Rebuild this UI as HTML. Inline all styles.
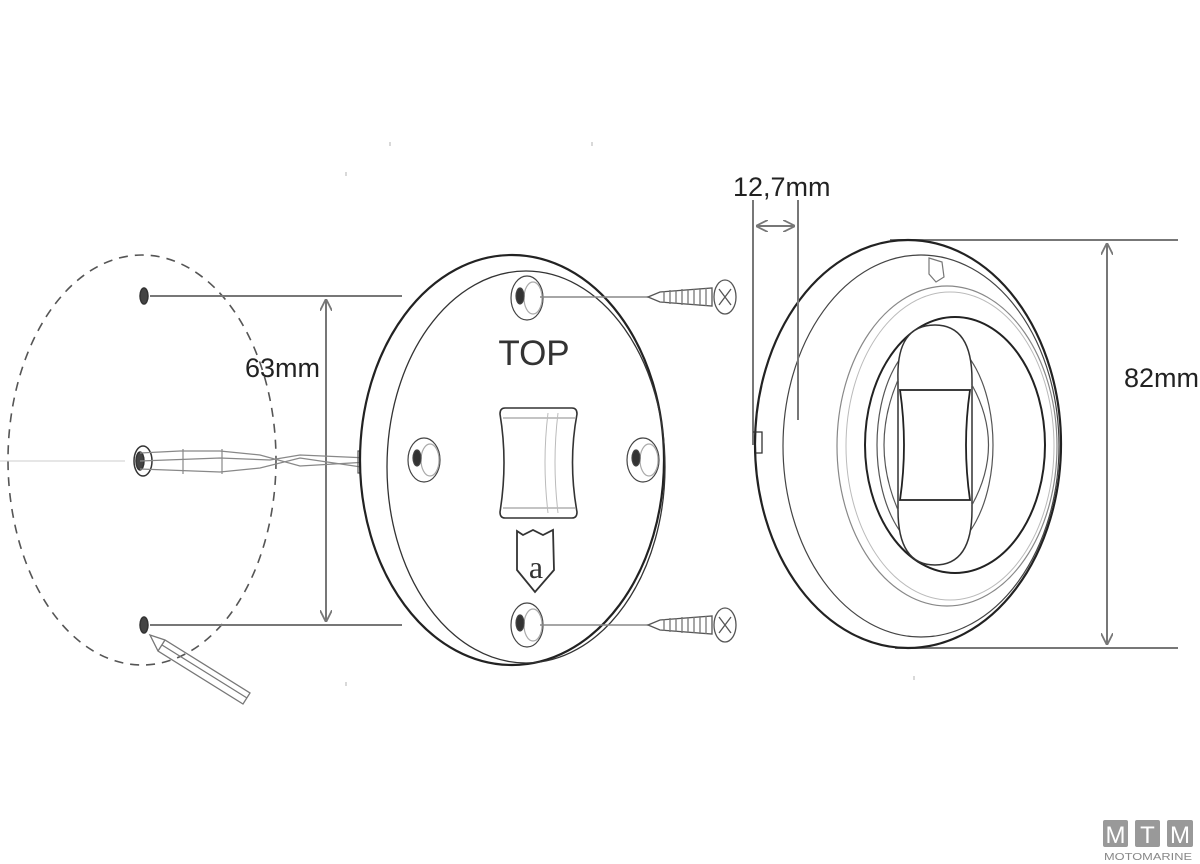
<!DOCTYPE html>
<html><head><meta charset="utf-8"><style>
html,body{margin:0;padding:0;background:#fff;}
svg{display:block;}
</style></head><body>
<svg width="1200" height="864" viewBox="0 0 1200 864" xmlns="http://www.w3.org/2000/svg" font-family="Liberation Sans, sans-serif">
<defs>
<marker id="a" viewBox="0 0 10 10" refX="9" refY="5" markerWidth="12" markerHeight="12" orient="auto-start-reverse" markerUnits="userSpaceOnUse">
<path d="M0,0 L10,5 L0,10" fill="none" stroke="#777" stroke-width="1.5"/>
</marker>
</defs>
<rect width="1200" height="864" fill="#fff"/>

<!-- Left template -->
<ellipse cx="142" cy="460" rx="134" ry="205" fill="none" stroke="#555" stroke-width="1.6" stroke-dasharray="9,7"/>
<line x1="0" y1="461" x2="125" y2="461" stroke="#ccc" stroke-width="1"/>
<g stroke="#333" stroke-width="1.5">
<ellipse cx="144" cy="296" rx="4" ry="8" fill="#444"/>
<ellipse cx="144" cy="625" rx="4" ry="8" fill="#444"/>
<ellipse cx="143" cy="461" rx="9" ry="15" fill="#fff"/>
<ellipse cx="140" cy="461" rx="4" ry="9" fill="#444"/>
</g>
<line x1="150" y1="296" x2="402" y2="296" stroke="#777" stroke-width="2"/>
<line x1="150" y1="625" x2="402" y2="625" stroke="#777" stroke-width="2"/>
<line x1="326" y1="300" x2="326" y2="621" stroke="#777" stroke-width="2" marker-start="url(#a)" marker-end="url(#a)"/>
<text x="245" y="377" font-size="27" fill="#222">63mm</text>
<!-- wire -->
<g fill="none" stroke="#888" stroke-width="1.2">
<path d="M140,453 L180,451 L220,451 L260,455 L300,466 L368,462"/>
<path d="M140,461 L220,458 L270,460 L300,455 L368,458"/>
<path d="M140,469 L220,472 L260,468 L300,458 L368,468"/>
<line x1="183" y1="449" x2="183" y2="474"/><line x1="222" y1="449" x2="222" y2="474"/>
<rect x="358" y="451" width="10" height="22" stroke="#555"/>
</g>
<!-- pencil -->
<g fill="none" stroke="#777" stroke-width="1.3">
<path d="M150,635 L165,640 L250,693 L243,704 L158,651 Z"/>
<line x1="165" y1="640" x2="158" y2="651"/>
<line x1="162" y1="645" x2="247" y2="698"/>
</g>

<!-- Middle disc -->
<ellipse cx="512" cy="460" rx="152" ry="205" fill="#fff" stroke="#222" stroke-width="2.2"/>
<ellipse cx="526" cy="467" rx="139" ry="196" fill="none" stroke="#333" stroke-width="1.3"/>
<g stroke="#444" stroke-width="1.2">
<g transform="translate(527,298)"><ellipse cx="0" cy="0" rx="16" ry="22" fill="#fff"/><ellipse cx="6" cy="0" rx="9" ry="16" fill="none" stroke="#aaa"/><ellipse cx="-7" cy="-2" rx="4" ry="8" fill="#333"/></g>
<g transform="translate(527,625)"><ellipse cx="0" cy="0" rx="16" ry="22" fill="#fff"/><ellipse cx="6" cy="0" rx="9" ry="16" fill="none" stroke="#aaa"/><ellipse cx="-7" cy="-2" rx="4" ry="8" fill="#333"/></g>
<g transform="translate(424,460)"><ellipse cx="0" cy="0" rx="16" ry="22" fill="#fff"/><ellipse cx="6" cy="0" rx="9" ry="16" fill="none" stroke="#aaa"/><ellipse cx="-7" cy="-2" rx="4" ry="8" fill="#333"/></g>
<g transform="translate(643,460)"><ellipse cx="0" cy="0" rx="16" ry="22" fill="#fff"/><ellipse cx="6" cy="0" rx="9" ry="16" fill="none" stroke="#aaa"/><ellipse cx="-7" cy="-2" rx="4" ry="8" fill="#333"/></g>
</g>
<text x="534" y="365" font-size="35" fill="#333" text-anchor="middle">TOP</text>
<!-- switch -->
<path d="M505,408 L572,408 Q577,408 577,414 Q568,462 577,512 Q577,518 572,518 L505,518 Q500,518 500,512 Q508,462 500,414 Q500,408 505,408 Z" fill="#fff" stroke="#333" stroke-width="1.6"/>
<line x1="503" y1="418" x2="575" y2="418" stroke="#888" stroke-width="1"/>
<line x1="503" y1="508" x2="575" y2="508" stroke="#888" stroke-width="1"/>
<path d="M548,413 Q542,462 548,513 M558,413 Q552,462 558,513" fill="none" stroke="#bbb" stroke-width="1"/>
<!-- shield -->
<path d="M517,531 L523,535 L533,530 L543,535 L553,530 L554,570 L535,592 L517,570 Z" fill="#fff" stroke="#333" stroke-width="1.8"/>
<text x="536" y="578" font-size="32" fill="#333" text-anchor="middle" font-family="Liberation Serif, serif">a</text>
<!-- screw lines -->
<line x1="540" y1="297" x2="648" y2="297" stroke="#888" stroke-width="1.5"/>
<line x1="540" y1="625" x2="648" y2="625" stroke="#888" stroke-width="1.5"/>
<g fill="#fff" stroke="#555" stroke-width="1.3">
<g transform="translate(0,297)">
<path d="M648,0 L660,-5 L712,-9 L712,9 L660,5 Z"/>
<path d="M664,-6 L664,6 M670,-7 L670,7 M676,-7 L676,7 M682,-8 L682,8 M688,-8 L688,8 M694,-8 L694,8 M700,-9 L700,9 M706,-9 L706,9" stroke="#777"/>
<ellipse cx="725" cy="0" rx="11" ry="17"/>
<path d="M719,-8 L731,8 M731,-8 L719,8" stroke="#555"/>
</g>
<g transform="translate(0,625)">
<path d="M648,0 L660,-5 L712,-9 L712,9 L660,5 Z"/>
<path d="M664,-6 L664,6 M670,-7 L670,7 M676,-7 L676,7 M682,-8 L682,8 M688,-8 L688,8 M694,-8 L694,8 M700,-9 L700,9 M706,-9 L706,9" stroke="#777"/>
<ellipse cx="725" cy="0" rx="11" ry="17"/>
<path d="M719,-8 L731,8 M731,-8 L719,8" stroke="#555"/>
</g>
</g>

<!-- Right disc -->
<line x1="890" y1="240" x2="1178" y2="240" stroke="#777" stroke-width="2"/>
<line x1="895" y1="648" x2="1178" y2="648" stroke="#777" stroke-width="2"/>
<line x1="1107" y1="244" x2="1107" y2="644" stroke="#777" stroke-width="2" marker-start="url(#a)" marker-end="url(#a)"/>
<text x="1124" y="387" font-size="27" fill="#222">82mm</text>
<ellipse cx="908" cy="444" rx="153" ry="204" fill="#fff" stroke="#222" stroke-width="2.2"/>
<ellipse cx="921" cy="446" rx="138" ry="191" fill="none" stroke="#444" stroke-width="1.2"/>
<ellipse cx="947" cy="446" rx="110" ry="160" fill="none" stroke="#888" stroke-width="1.2"/>
<ellipse cx="950" cy="446" rx="104" ry="154" fill="none" stroke="#bbb" stroke-width="1"/>
<ellipse cx="955" cy="445" rx="90" ry="128" fill="none" stroke="#222" stroke-width="2"/>
<ellipse cx="935" cy="445" rx="58" ry="108" fill="none" stroke="#555" stroke-width="1.2"/>
<path d="M898,380 Q896,325 935,325 Q972,325 972,380 L972,510 Q972,565 935,565 Q898,565 898,510 Z" fill="#fff" stroke="#333" stroke-width="1.5"/>
<path d="M898,380 Q870,445 898,510 M972,385 Q1005,445 972,505" fill="none" stroke="#555" stroke-width="1.2"/>
<path d="M900,390 L970,390 Q962,445 970,500 L900,500 Q908,445 900,390 Z" fill="#fff" stroke="#222" stroke-width="1.8"/>
<path d="M929,258 L942,262 L944,277 L936,282 L929,274 Z" fill="none" stroke="#777" stroke-width="1.2"/>
<!-- 12,7mm -->
<line x1="753" y1="200" x2="753" y2="445" stroke="#777" stroke-width="2"/>
<line x1="798" y1="200" x2="798" y2="420" stroke="#777" stroke-width="2"/>
<line x1="757" y1="226" x2="794" y2="226" stroke="#777" stroke-width="2" marker-start="url(#a)" marker-end="url(#a)"/>
<text x="733" y="196" font-size="27" fill="#222">12,7mm</text>
<path d="M753,432 L762,432 L762,453 L756,453" fill="none" stroke="#333" stroke-width="1.3"/>

<!-- small grey ticks -->
<g stroke="#ccc" stroke-width="1.5">
<line x1="390" y1="142" x2="390" y2="146"/><line x1="346" y1="172" x2="346" y2="176"/><line x1="346" y1="682" x2="346" y2="686"/>
<line x1="592" y1="142" x2="592" y2="146"/><line x1="914" y1="676" x2="914" y2="680"/>
</g>

<!-- logo -->
<g fill="#999">
<rect x="1103" y="820" width="25" height="27" rx="2"/>
<rect x="1135" y="820" width="25" height="27" rx="2"/>
<rect x="1167" y="820" width="26" height="27" rx="2"/>
</g>
<g fill="#fff" font-size="24" text-anchor="middle">
<text x="1115.5" y="843">M</text><text x="1147.5" y="843">T</text><text x="1180" y="843">M</text>
</g>
<text x="1104" y="860" font-size="10" fill="#888" textLength="88" lengthAdjust="spacingAndGlyphs">MOTOMARINE</text>
</svg>
</body></html>
